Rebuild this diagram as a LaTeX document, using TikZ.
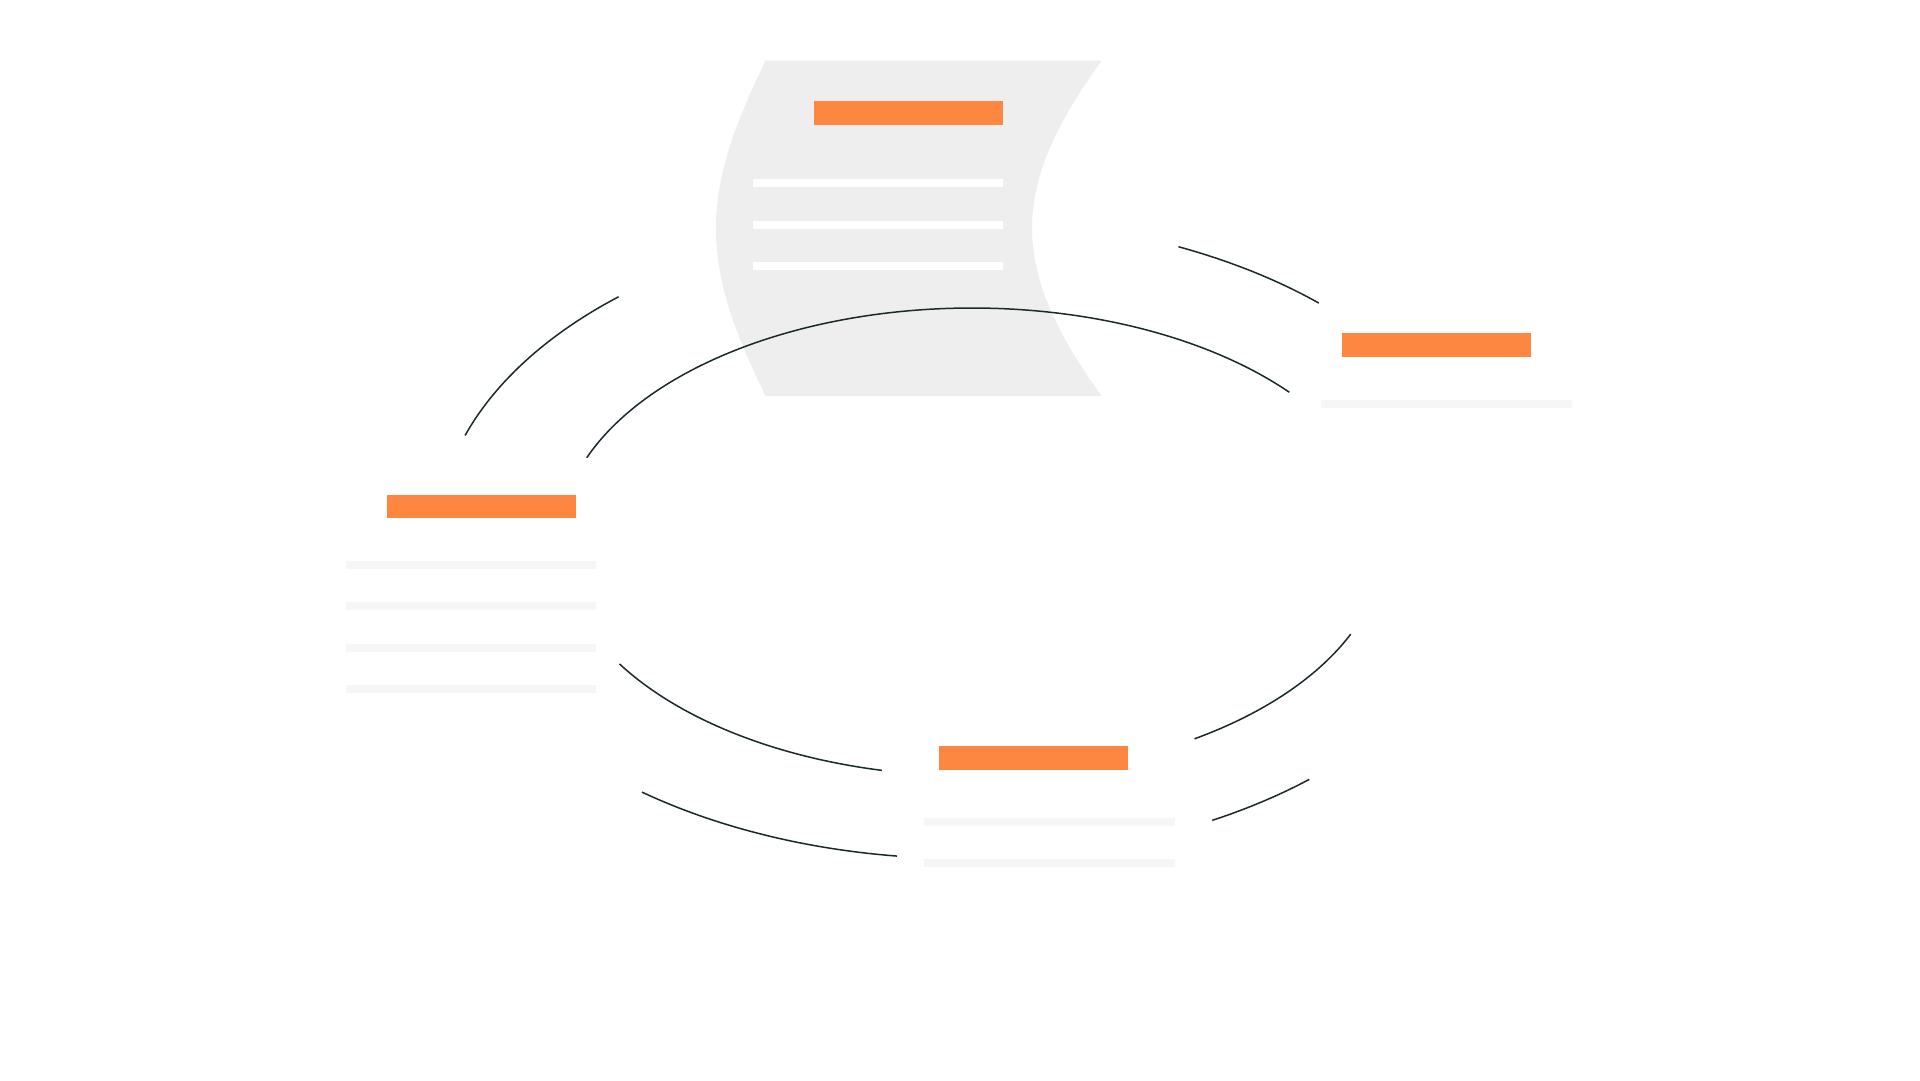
\documentclass[tikz,border=0pt]{standalone}
\definecolor{accent}{HTML}{FD8741}
\definecolor{docgray}{HTML}{EEEEEE}
\definecolor{linegray}{HTML}{F6F6F6}
\definecolor{ink}{HTML}{1B292D}
\begin{document}
\begin{tikzpicture}[x=1pt,y=-1pt,
  bar/.style={rectangle, fill=accent, draw=none, inner sep=0pt, minimum width=189pt, minimum height=23.5pt},
  stripe/.style={rectangle, fill=#1, draw=none, inner sep=0pt, minimum width=250.5pt, minimum height=7.8pt},
  ring/.style={draw=ink, line width=1.5pt}]
\fill[white] (0,0) rectangle (1920,1080);
\useasboundingbox (0,0) rectangle (1920,1080);

% document sheet
\fill[docgray] (765.7,60.7) -- (1101.7,60.7)
  .. controls (1008.8,188) and (1008.8,268) .. (1101.7,396)
  -- (765.7,396)
  .. controls (699.4,262) and (699.4,195) .. (765.7,60.7) -- cycle;

% inner ring arcs
\draw[ring] plot[domain=158.9:39.8, samples=90, smooth, variable=\t] ({972+413*cos(\t)},{542-234*sin(\t)});
\draw[ring] plot[domain=211.4:257.4, samples=40, smooth, variable=\t] ({972+413*cos(\t)},{542-234*sin(\t)});
\draw[ring] plot[domain=302.6:336.5, samples=40, smooth, variable=\t] ({972+413*cos(\t)},{540-236*sin(\t)});

% outer ring arcs
\draw[ring] plot[domain=130.9:161.2, samples=40, smooth, variable=\t] ({962.9+525.9*cos(\t)},{538.6-320*sin(\t)});
\draw[ring] plot[domain=65.8:47.4, samples=40, smooth, variable=\t] ({962.9+525.9*cos(\t)},{538.6-320*sin(\t)});
\draw[ring] plot[domain=311.2:298.3, samples=40, smooth, variable=\t] ({962.9+525.9*cos(\t)},{538.6-320*sin(\t)});
\draw[ring] plot[domain=232.4:262.8, samples=40, smooth, variable=\t] ({962.9+525.9*cos(\t)},{538.6-320*sin(\t)});

% top card (document)
\node[bar] (topbar) at (908.5,112.8) {};
\node[stripe=white] (top1) at (877.9,183.2) {};
\node[stripe=white] (top2) at (877.9,224.9) {};
\node[stripe=white] (top3) at (877.9,265.9) {};

% left card
\node[bar] (leftbar) at (481.7,506.6) {};
\node[stripe=linegray] (left1) at (471.2,565.0) {};
\node[stripe=linegray] (left2) at (471.2,606.3) {};
\node[stripe=linegray] (left3) at (471.2,647.7) {};
\node[stripe=linegray] (left4) at (471.2,689.0) {};

% right card
\node[bar] (rightbar) at (1436.0,345.2) {};
\node[stripe=linegray] (right1) at (1446.7,404.0) {};

% bottom card
\node[bar] (bottombar) at (1033.4,758.0) {};
\node[stripe=linegray] (bottom1) at (1049.5,822.0) {};
\node[stripe=linegray] (bottom2) at (1049.5,863.0) {};
\end{tikzpicture}
\end{document}
